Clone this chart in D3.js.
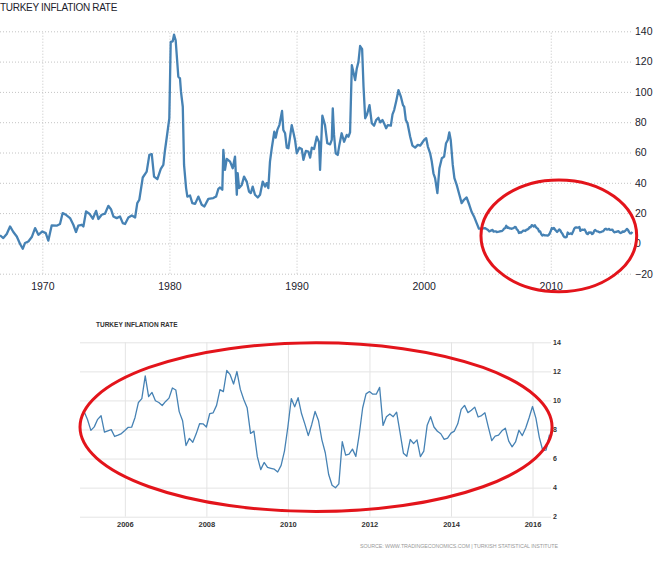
<!DOCTYPE html>
<html><head><meta charset="utf-8">
<script src="https://cdn.jsdelivr.net/npm/d3@7"></script>
<style>
html,body{margin:0;padding:0;background:#fff;}
svg{display:block;font-family:"Liberation Sans",Arial,sans-serif;}
</style></head><body>
<svg id="chart" width="654" height="567"></svg>
<script>
// ---------- DATA ----------
const histYears = [1966.67,1966.93,1967.20,1967.46,1967.72,1967.99,1968.25,1968.46,1968.64,1968.90,
1969.17,1969.43,1969.69,1970.00,1970.27,1970.47,1970.74,1971.13,1971.39,1971.60,1971.86,1972.18,1972.44,
1972.65,1972.83,1973.10,1973.23,1973.44,1973.70,1973.97,1974.23,1974.41,1974.67,1974.93,1975.19,1975.40,
1975.59,1975.85,1976.11,1976.33,1976.51,1976.77,1977.04,1977.30,1977.47,1977.63,1977.90,1978.21,1978.42,
1978.61,1978.79,1979.05,1979.32,1979.52,1979.65,1979.78,1979.99,1980.10,1980.26,1980.36,1980.49,1980.70,
1980.83,1980.91,1981.05,1981.15,1981.31,1981.41,1981.62,1981.80,1982.02,1982.28,1982.54,1982.75,1983.06,
1983.45,1983.67,1983.85,1983.98,1984.16,1984.24,1984.37,1984.51,1984.77,1984.98,1985.16,1985.30,1985.37,
1985.48,1985.69,1985.87,1986.08,1986.26,1986.40,1986.55,1986.73,1986.95,1987.13,1987.34,1987.52,1987.65,
1987.78,1987.91,1988.05,1988.25,1988.36,1988.49,1988.65,1988.86,1988.96,1989.10,1989.23,1989.36,1989.62,
1989.75,1989.88,1990.02,1990.22,1990.41,1990.54,1990.73,1990.93,1991.07,1991.20,1991.38,1991.59,1991.77,
1991.85,1992.03,1992.24,1992.42,1992.64,1992.77,1992.85,1992.95,1993.08,1993.24,1993.37,1993.55,1993.74,
1993.95,1994.08,1994.21,1994.35,1994.47,1994.61,1994.74,1994.87,1995.00,1995.16,1995.27,1995.40,1995.53,
1995.74,1995.92,1996.10,1996.26,1996.44,1996.58,1996.76,1996.92,1997.05,1997.18,1997.42,1997.55,1997.68,
1997.84,1998.02,1998.21,1998.37,1998.47,1998.60,1998.73,1998.94,1999.12,1999.33,1999.54,1999.73,1999.86,
2000.04,2000.20,2000.33,2000.51,2000.64,2000.77,2000.90,2001.08,2001.24,2001.43,2001.61,2001.76,2001.90,
2002.02,2002.13,2002.29,2002.42,2002.60,2002.81,2002.99,2003.17,2003.38,2003.59,2003.78,2003.96,2004.17,
2004.35,2004.56,2004.82];
const histValues = [5.3,3.5,6.2,11.2,7.5,4.6,-0.4,-3.5,0.3,1.3,
4.2,10.1,5.7,7.9,6.8,1.8,11.9,11.7,12.8,20.0,18.9,16.7,12.3,
7.5,11.7,12.3,11.2,21.1,19.6,16.3,21.5,16.1,18.9,19.6,24.8,22.6,
17.8,16.7,17.8,13.4,12.8,17.1,18.4,17.1,26.6,28.8,43.5,47.4,58.4,
58.9,44.1,42.4,49.2,51.8,61.5,69.4,82.5,133.0,133.4,137.8,134.1,110.0,
108.9,100.0,90.2,51.8,36.5,30.9,31.6,26.6,26.1,30.9,25.5,24.4,29.4,
29.9,30.9,36.0,36.9,35.4,61.7,48.5,55.8,54.0,49.6,57.3,32.1,46.3,
36.5,38.6,44.1,40.8,34.2,33.2,37.5,32.1,30.3,32.1,40.8,37.5,39.8,
36.5,54.0,62.8,73.7,69.8,74.9,78.1,87.4,74.9,72.7,63.2,62.8,78.1,
73.3,68.3,59.5,63.2,62.3,55.1,61.0,60.6,56.6,63.2,62.3,70.4,66.8,
48.5,84.3,78.1,66.1,65.4,68.3,89.1,71.6,59.5,58.4,65.0,72.7,67.1,
71.6,70.4,73.3,117.6,113.2,107.8,115.5,119.8,130.3,128.2,103.4,82.6,84.7,
91.3,79.3,77.7,81.4,82.9,79.9,81.4,78.6,76.0,78.1,77.7,85.2,88.0,
93.9,101.2,96.8,91.3,90.2,81.4,79.3,70.4,64.5,63.2,65.0,64.5,66.1,
68.3,69.4,63.9,59.5,54.0,46.3,43.1,33.2,49.6,56.2,57.3,66.1,68.3,
73.3,68.3,51.8,43.1,38.6,32.1,26.6,28.8,30.3,25.5,20.7,17.8,13.4,
9.7,9.7,10.1];
// monthly values, Jan 2005 .. Jun 2016
const recentStart = 2005;
const recentValues = [
9.24,8.69,7.94,8.18,8.70,8.95,7.82,7.91,7.99,7.52,7.61,7.72,
7.93,8.15,8.16,8.83,9.86,10.12,11.69,10.26,10.55,9.98,9.86,9.65,
9.93,10.16,10.86,10.72,9.23,8.60,6.90,7.39,7.12,7.70,8.40,8.39,
8.17,9.10,9.15,9.66,10.74,10.61,12.06,11.77,11.13,11.99,10.76,10.06,
9.50,7.73,7.89,6.13,5.24,5.73,5.39,5.33,5.27,5.08,5.53,6.53,
8.19,10.13,9.56,10.19,9.10,8.37,7.58,8.33,9.24,8.62,7.29,6.40,
4.90,4.16,3.99,4.26,7.17,6.24,6.31,6.65,6.15,7.66,9.48,10.45,
10.61,10.43,10.43,10.90,8.28,8.87,9.07,8.88,9.19,7.80,6.37,6.16,
7.31,7.03,7.29,6.13,6.51,8.30,8.88,8.17,7.88,7.71,7.32,7.40,
7.75,7.89,8.39,9.38,9.66,9.16,9.32,9.54,8.86,8.96,9.15,8.17,
7.24,7.55,7.61,7.91,8.09,7.20,6.81,7.14,7.95,7.58,8.10,8.81,
9.58,8.78,7.46,6.57,6.58,7.64];
const topYTicks = [-20,0,20,40,60,80,100,120,140];
const topXTicks = [1970,1980,1990,2000,2010];
const botYTicks = [2,4,6,8,10,12,14];
const botXTicks = [2006,2008,2010,2012,2014,2016];
const titleText = "TURKEY INFLATION RATE";
const sourceText = "SOURCE: WWW.TRADINGECONOMICS.COM | TURKISH STATISTICAL INSTITUTE";
// highlight ellipses, in data units
const topHighlight = {x0:2004.51, x1:2016.76, y0:-31.9, y1:41.9};
const botHighlight = {x0:2004.9, x1:2016.48, y0:2.36, y1:13.97};

// ---------- BUILD ----------
const recent = recentValues.map((v,i)=>({date: recentStart + i/12, value: v}));
const hist = histYears.map((d,i)=>({date: d, value: histValues[i]}));
const full = hist.concat(recent);

const svg = d3.select("#chart");
const lineColor = "#4682b4";
const red = "#e3141b";

// ===== TOP CHART =====
const xTop = d3.scaleLinear().domain([1966.67, 2016.47]).range([0, 633]);
const yTop = d3.scaleLinear().domain([-20, 140]).range([273.7, 31.3]);
const topG = svg.append("g");

topG.append("text").attr("x", 0).attr("y", 10.7)
  .attr("font-size", "10px").attr("letter-spacing", "-0.3px")
  .attr("fill", "#1c1c2c").text(titleText);

const hGrid = topG.append("g")
  .call(d3.axisLeft(yTop).tickValues(topYTicks).tickSize(-632).tickFormat(""));
hGrid.select(".domain").remove();
hGrid.selectAll("line").attr("stroke", "#c4c4c4").attr("stroke-dasharray", "1,2");

const vGrid = topG.append("g").attr("transform", `translate(0,${yTop(-20)})`)
  .call(d3.axisBottom(xTop).tickValues(topXTicks).tickSize(-(yTop(-20)-yTop(140))).tickFormat(""));
vGrid.select(".domain").remove();
vGrid.selectAll("line").attr("stroke", "#c4c4c4").attr("stroke-dasharray", "1,2");

const yAxT = topG.append("g").attr("transform", "translate(633,0)")
  .call(d3.axisRight(yTop).tickValues(topYTicks).tickSize(0).tickPadding(2));
yAxT.select(".domain").remove();
yAxT.selectAll("text").attr("font-size", "10.5px").attr("fill", "#1c1c2c")
  .attr("font-family", "'Liberation Sans',Arial,sans-serif");

const xAxT = topG.append("g").attr("transform", `translate(0,${yTop(-20)})`)
  .call(d3.axisBottom(xTop).tickValues(topXTicks).tickSize(0).tickPadding(8.5).tickFormat(d3.format("d")));
xAxT.select(".domain").remove();
xAxT.selectAll("text").attr("font-size", "10.5px").attr("fill", "#1c1c2c")
  .attr("font-family", "'Liberation Sans',Arial,sans-serif");

topG.append("path").datum(full)
  .attr("fill", "none").attr("stroke", lineColor).attr("stroke-width", 2.3)
  .attr("stroke-linejoin", "round")
  .attr("d", d3.line().x(d=>xTop(d.date)).y(d=>yTop(d.value)));

topG.append("ellipse")
  .attr("cx", (xTop(topHighlight.x0)+xTop(topHighlight.x1))/2)
  .attr("cy", (yTop(topHighlight.y0)+yTop(topHighlight.y1))/2)
  .attr("rx", (xTop(topHighlight.x1)-xTop(topHighlight.x0))/2)
  .attr("ry", (yTop(topHighlight.y0)-yTop(topHighlight.y1))/2)
  .attr("fill", "none").attr("stroke", red).attr("stroke-width", 3);

// ===== BOTTOM CHART =====
const xBot = d3.scaleLinear().domain([2004.9, 2016.38]).range([80, 548]);
const yBot = d3.scaleLinear().domain([2, 14]).range([516.7, 342.3]);
const botG = svg.append("g");

botG.append("text").attr("x", 96).attr("y", 327)
  .attr("font-size", "6.5px").attr("font-weight", "bold")
  .attr("fill", "#333").text(titleText);

const bhGrid = botG.append("g").attr("transform", "translate(551,0)")
  .call(d3.axisLeft(yBot).tickValues(botYTicks).tickSize(471).tickFormat(""));
bhGrid.select(".domain").remove();
bhGrid.selectAll("line").attr("stroke", "#e4e4e4");

const bvGrid = botG.append("g").attr("transform", `translate(0,${yBot(2)})`)
  .call(d3.axisBottom(xBot).tickValues(botXTicks).tickSize(-(yBot(2)-yBot(14))).tickFormat(""));
bvGrid.select(".domain").remove();
bvGrid.selectAll("line").attr("stroke", "#e4e4e4");

const byAx = botG.append("g").attr("transform", "translate(551,0)")
  .call(d3.axisRight(yBot).tickValues(botYTicks).tickSize(0).tickPadding(2));
byAx.select(".domain").remove();
byAx.selectAll("text").attr("font-size", "7px").attr("font-weight", "bold").attr("fill", "#333")
  .attr("font-family", "'Liberation Sans',Arial,sans-serif");

const bxAx = botG.append("g").attr("transform", `translate(0,${yBot(2)})`)
  .call(d3.axisBottom(xBot).tickValues(botXTicks).tickSize(0).tickPadding(5).tickFormat(d3.format("d")));
bxAx.select(".domain").remove();
bxAx.selectAll("text").attr("font-size", "7.5px").attr("font-weight", "bold").attr("fill", "#333")
  .attr("font-family", "'Liberation Sans',Arial,sans-serif");

botG.append("path").datum(recent)
  .attr("fill", "none").attr("stroke", lineColor).attr("stroke-width", 1.3)
  .attr("stroke-linejoin", "round")
  .attr("d", d3.line().x(d=>xBot(d.date)).y(d=>yBot(d.value)));

botG.append("ellipse")
  .attr("cx", (xBot(botHighlight.x0)+xBot(botHighlight.x1))/2)
  .attr("cy", (yBot(botHighlight.y0)+yBot(botHighlight.y1))/2)
  .attr("rx", (xBot(botHighlight.x1)-xBot(botHighlight.x0))/2)
  .attr("ry", (yBot(botHighlight.y0)-yBot(botHighlight.y1))/2)
  .attr("fill", "none").attr("stroke", red).attr("stroke-width", 3);

botG.append("text").attr("x", 360).attr("y", 548)
  .attr("font-size", "5.3px").attr("fill", "#999")
  .attr("textLength", 198).attr("lengthAdjust", "spacing")
  .text(sourceText);
</script>
</body></html>
